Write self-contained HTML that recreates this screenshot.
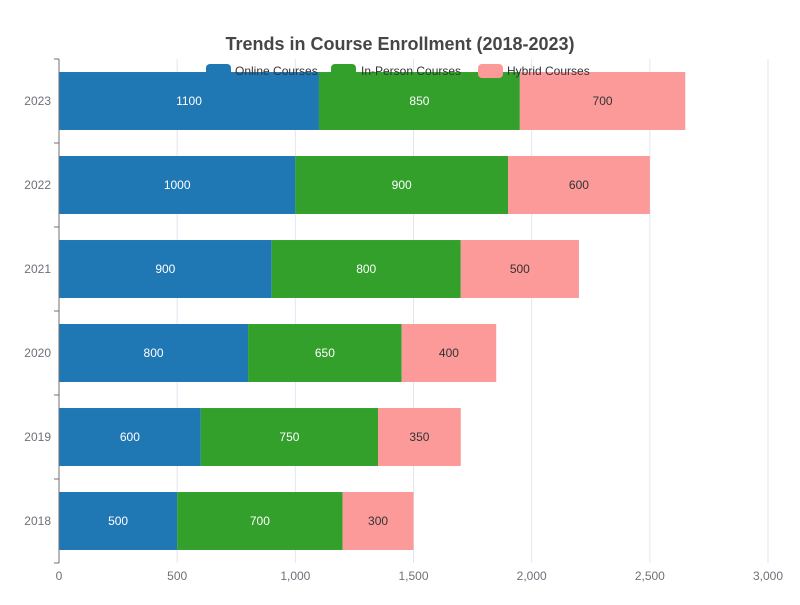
<!DOCTYPE html>
<html><head><meta charset="utf-8"><style>
body{margin:0;background:#fff}
svg text{font-family:"Liberation Sans",sans-serif}
</style></head><body>
<svg id="c" width="800" height="600" xmlns="http://www.w3.org/2000/svg">
<text x="400" y="50" text-anchor="middle" font-size="18" font-weight="bold" fill="#464646">Trends in Course Enrollment (2018-2023)</text>
<g id="grid"></g><g id="bars"></g><g id="axes"></g>
<g id="legend" font-size="12" fill="#333">
<g><rect x="206" y="64" width="25" height="14" rx="4" fill="#1f77b4"/><text x="235" y="75">Online Courses</text></g>
<g><rect x="331" y="64" width="25" height="14" rx="4" fill="#33a02c"/><text x="361" y="75">In-Person Courses</text></g>
<g><rect x="478" y="64" width="25" height="14" rx="4" fill="#fb9a99"/><text x="507" y="75">Hybrid Courses</text></g>
</g>
</svg>
<script>
const categories=["2018","2019","2020","2021","2022","2023"];
const online=[500,600,800,900,1000,1100];
const inPerson=[700,750,650,800,900,850];
const hybrid=[300,350,400,500,600,700];
const xTicks=[0,500,1000,1500,2000,2500,3000];
const xTickLabels=["0","500","1,000","1,500","2,000","2,500","3,000"];
const NS="http://www.w3.org/2000/svg";
const L=59,R=768,T=59,B=563,xMax=3000;
const xs=v=>L+v/xMax*(R-L);
const band=(B-T)/categories.length;
const yc=i=>B-band*(i+0.5);
function mk(tag,attrs,parent,text){const e=document.createElementNS(NS,tag);for(const k in attrs)e.setAttribute(k,attrs[k]);if(text!==undefined)e.textContent=text;document.getElementById(parent).appendChild(e);return e;}
xTicks.forEach((t,i)=>{
 if(t>0){const g=mk('line',{x1:xs(t),x2:xs(t),y1:T,y2:B,stroke:'#e0e6f1'},'grid');
 
 }
 const tl=mk('text',{x:xs(t),y:580,'text-anchor':'middle','font-size':12,fill:'#6e7079'},'axes',xTickLabels[i]);
 
 
});
const ax=mk('line',{x1:L,x2:L,y1:T,y2:B,stroke:'#6e7079'},'axes');


for(let i=0;i<=categories.length;i++){const y=B-band*i;mk('line',{x1:L-5,x2:L,y1:y,y2:y,stroke:'#6e7079'},'axes');}
const series=[[online,'#1f77b4','#fff','online'],[inPerson,'#33a02c','#fff','in-person'],[hybrid,'#fb9a99','#333','hybrid']];
categories.forEach((c,i)=>{
 const yl=mk('text',{x:51,y:yc(i)+4,'text-anchor':'end','font-size':12,fill:'#6e7079'},'axes',c);
 
 
 let acc=0;const h=band*0.69;
 series.forEach(([arr,col,tc,nm])=>{
  const x0=xs(acc),x1=xs(acc+arr[i]);
  const r=mk('rect',{x:x0,y:yc(i)-h/2,width:x1-x0,height:h,fill:col},'bars');
  
  
  const t=mk('text',{x:(x0+x1)/2,y:yc(i)+4,'text-anchor':'middle','font-size':12,fill:tc},'bars',arr[i]);
  
  
  acc+=arr[i];
 });
});
</script>
</body></html>
